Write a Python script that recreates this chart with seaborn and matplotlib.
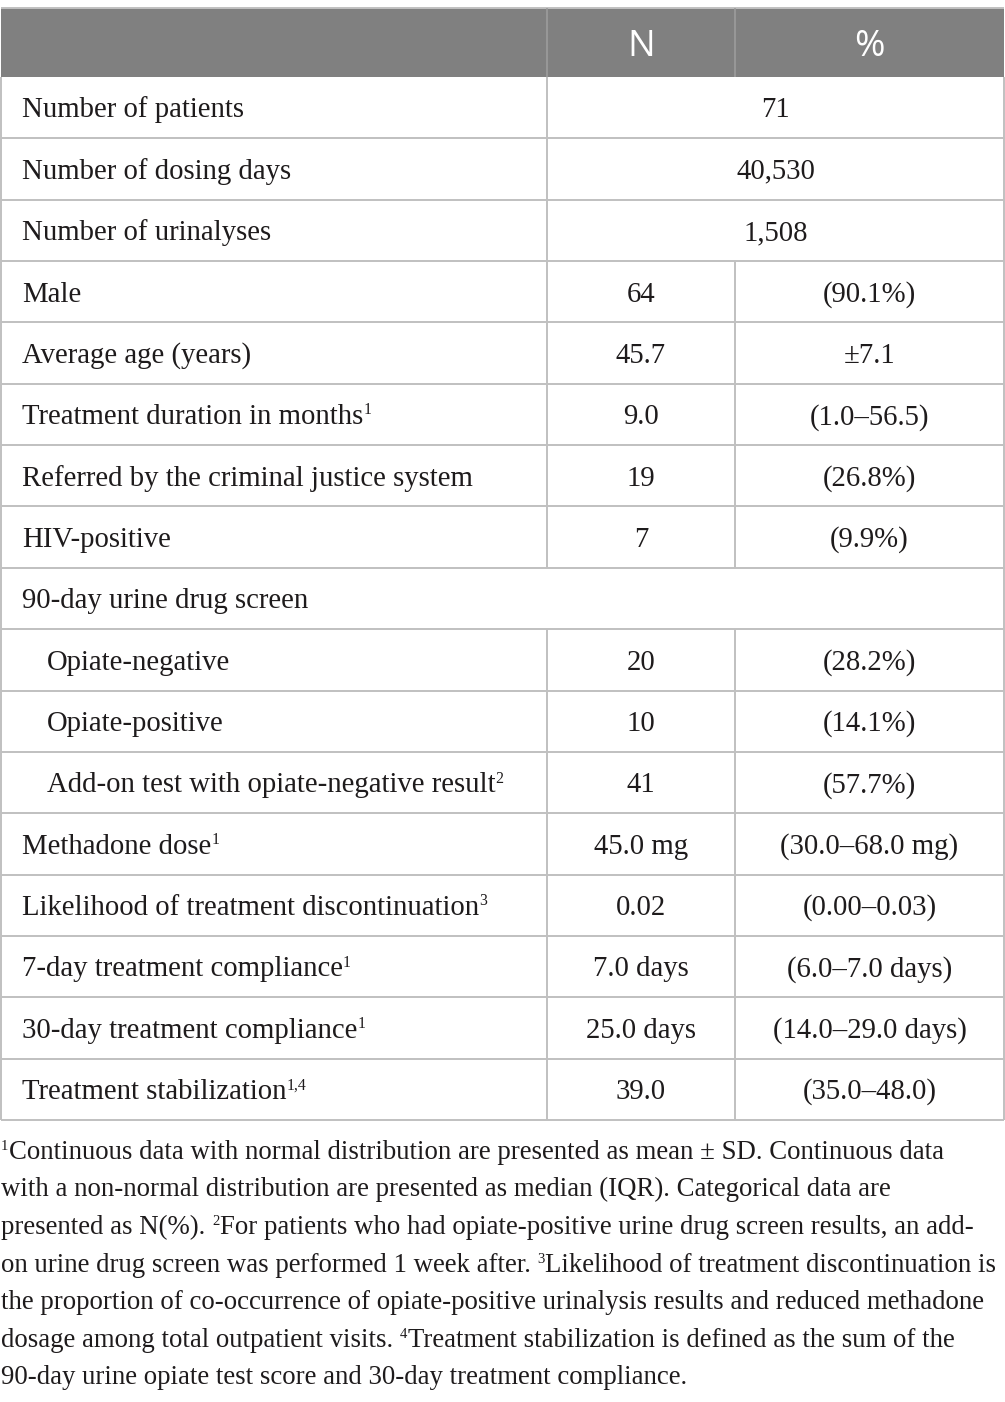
import re
import matplotlib
matplotlib.use('Agg')
import matplotlib.pyplot as plt
from matplotlib.patches import Rectangle
import seaborn as sns

sns.set_style('white')
plt.rcParams['font.family'] = ['Liberation Serif', 'DejaVu Serif']

# ---- table content ----
header = ['', 'N', '%']

labels = ['Number of patients', 'Number of dosing days', 'Number of urinalyses',
          'Male', 'Average age (years)', 'Treatment duration in months',
          'Referred by the criminal justice system', 'HIV-positive',
          '90-day urine drug screen', 'Opiate-negative', 'Opiate-positive',
          'Add-on test with opiate-negative result', 'Methadone dose',
          'Likelihood of treatment discontinuation',
          '7-day treatment compliance', '30-day treatment compliance',
          'Treatment stabilization']
label_sups = ['', '', '', '', '', '1', '', '', '', '', '', '2', '1', '3',
              '1', '1', '1,4']
n_col = ['71', '40,530', '1,508', '64', '45.7', '9.0', '19', '7', '',
         '20', '10', '41', '45.0 mg', '0.02', '7.0 days', '25.0 days', '39.0']
pct_col = ['', '', '', '(90.1%)', '\u00b17.1', '(1.0\u201356.5)', '(26.8%)',
           '(9.9%)', '', '(28.2%)', '(14.1%)', '(57.7%)',
           '(30.0\u201368.0 mg)', '(0.00\u20130.03)', '(6.0\u20137.0 days)',
           '(14.0\u201329.0 days)', '(35.0\u201348.0)']
# 'merge' = N and % share one cell, 'section' = label spans the whole row
row_span = ['merge', 'merge', 'merge', '', '', '', '', '', 'section',
            '', '', '', '', '', '', '', '']
indented = [False] * 9 + [True] * 3 + [False] * 5

footnote_lines = [
    '^1Continuous data with normal distribution are presented as mean \u00b1 SD. Continuous data',
    'with a non-normal distribution are presented as median (IQR). Categorical data are',
    'presented as N(%). ^2For patients who had opiate-positive urine drug screen results, an add-',
    'on urine drug screen was performed 1 week after. ^3Likelihood of treatment discontinuation is',
    'the proportion of co-occurrence of opiate-positive urinalysis results and reduced methadone',
    'dosage among total outpatient visits. ^4Treatment stabilization is defined as the sum of the',
    '90-day urine opiate test score and 30-day treatment compliance.',
]

# ---- layout ----
W, H, DPI = 1005, 1402, 100
col_edges = [1, 547, 735, 1004]
table_top = 8
header_h = 69
row_h = 61.35
body_fs = 20.7
head_fs = 26.5
text_color = '#1e1b1c'
grid_color = '#c0c0c0'
head_bg = '#808080'

fig = plt.figure(figsize=(W / DPI, H / DPI), dpi=DPI)
ax = fig.add_axes([0, 0, 1, 1])
ax.set_xlim(0, W)
ax.set_ylim(H, 0)
ax.axis('off')
renderer = fig.canvas.get_renderer()


def px(fs):
    return fs * DPI / 72.0


def right_edge(t):
    bb = t.get_window_extent(renderer)
    return ax.transData.inverted().transform((bb.x1, bb.y0))[0]


def draw_run(x, y, line, fs):
    """Draw text with inline ^n superscripts, left aligned at x, baseline y."""
    made = []
    parts = re.split(r'\^([\d,]+)', line)
    for i, part in enumerate(parts):
        if part == '':
            continue
        if i % 2 == 1:
            t = ax.text(x, y - px(fs) * 0.34, part, fontsize=fs * 0.55,
                        color=text_color, ha='left', va='baseline')
            x = right_edge(t) + 0.5
        else:
            t = ax.text(x, y, part.rstrip(' '), fontsize=fs, color=text_color,
                        ha='left', va='baseline')
            x = right_edge(t)
            if part.endswith(' '):
                x += 0.25 * px(fs)
        made.append(t)
    return x, made


# header
x0, x3 = col_edges[0], col_edges[-1]
ax.add_patch(Rectangle((x0, table_top), x3 - x0, header_h, facecolor=head_bg,
                       edgecolor='none'))
ax.hlines(table_top, x0, x3, color=grid_color, lw=1.4)
for xe in col_edges[1:3]:
    ax.vlines(xe, table_top, table_top + header_h, color='#9c9c9c', lw=1.2)
head_base = table_top + header_h / 2 + 0.36 * px(head_fs)
for j, h in enumerate(header):
    if h:
        cx = (col_edges[j] + col_edges[j + 1]) / 2
        ax.text(cx, head_base, h, fontsize=head_fs, color='white', ha='center',
                va='baseline', family=['Open Sans', 'DejaVu Sans'])

# body rows
body_top = table_top + header_h
n_rows = len(labels)
for i in range(n_rows):
    y0 = body_top + i * row_h
    y1 = y0 + row_h
    base = (y0 + y1) / 2 + 0.34 * px(body_fs)
    ax.hlines(y1, x0, x3, color=grid_color, lw=1.4)
    ax.vlines([x0, x3], y0, y1, color=grid_color, lw=1.4)
    if row_span[i] != 'section':
        ax.vlines(col_edges[1], y0, y1, color=grid_color, lw=1.4)
    if row_span[i] == '':
        ax.vlines(col_edges[2], y0, y1, color=grid_color, lw=1.4)

    lx = 22 + (25 if indented[i] else 0)
    sup = ('^' + label_sups[i]) if label_sups[i] else ''
    draw_run(lx, base, labels[i] + sup, body_fs)

    if row_span[i] == 'merge':
        cx = (col_edges[1] + col_edges[3]) / 2
        ax.text(cx, base, n_col[i], fontsize=body_fs, color=text_color,
                ha='center', va='baseline')
    elif row_span[i] == '':
        for j, val in ((1, n_col[i]), (2, pct_col[i])):
            cx = (col_edges[j] + col_edges[j + 1]) / 2
            ax.text(cx, base, val, fontsize=body_fs, color=text_color,
                    ha='center', va='baseline')

# footnotes, size fitted so the widest line ends near the right edge
probe_end, probe_txt = draw_run(1, 0, footnote_lines[3], 18)
for t in probe_txt:
    t.remove()
foot_fs = 18 * 998 / (probe_end - 1)
foot_center = 1150
foot_step = 37.6
for k, line in enumerate(footnote_lines):
    base = foot_center + k * foot_step + 0.33 * px(foot_fs)
    draw_run(1, base, line, foot_fs)

fig.savefig('out.png', dpi=DPI, facecolor='white')
